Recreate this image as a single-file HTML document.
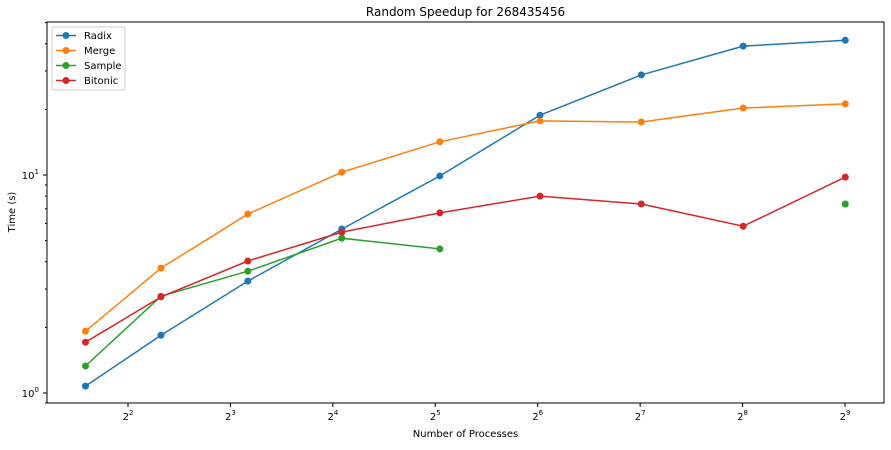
<!DOCTYPE html>
<html><head><meta charset="utf-8"><style>
body{margin:0;background:#fff;font-family:"Liberation Sans","DejaVu Sans",sans-serif;}
svg text{font-family:"DejaVu Sans","Liberation Sans",sans-serif;fill:#000;}
</style></head><body>
<svg id="chart" width="891" height="445" viewBox="0 0 891 445" xmlns="http://www.w3.org/2000/svg">
<text x="465.5" y="16" font-size="12" text-anchor="middle">Random Speedup for 268435456</text>
<text x="465.5" y="437" font-size="10" text-anchor="middle">Number of Processes</text>
<text x="15" y="212" font-size="10" text-anchor="middle" transform="rotate(-90 15 212)">Time (s)</text>
<g id="plot"></g>
</svg>
<script>
const processes=[3,5,9,17,33,65,129,257,513];
const radix=[1.076,1.84,3.26,5.65,9.9,18.8,28.8,39.0,41.5];
const merge=[1.92,3.74,6.62,10.3,14.2,17.7,17.5,20.3,21.2];
const sample=[1.33,2.78,3.62,5.13,4.58,null,null,null,7.36];
const bitonic=[1.71,2.76,4.03,5.47,6.7,8.0,7.36,5.82,9.78];
const seriesNames=['Radix','Merge','Sample','Bitonic'];
const xTickExps=[2,3,4,5,6,7,8,9];
const yTickExps=[0,1];

const L=47,R=884,T=22,B=403;
const NS='http://www.w3.org/2000/svg';
const g=document.getElementById('plot');
function xs(v){return 128+(Math.log2(v)-2)*102.43;}
function ys(v){return 393-(Math.log10(v))*218;}
function mk(t,a,p){const e=document.createElementNS(NS,t);for(const k in a)e.setAttribute(k,a[k]);(p||g).appendChild(e);return e;}

const frame=mk('rect',{x:L,y:T,width:R-L,height:B-T,fill:'none',stroke:'#000','stroke-width':1});



xTickExps.forEach(e=>{const x=xs(Math.pow(2,e));
 const t=mk('line',{x1:x,x2:x,y1:B,y2:B+4,stroke:'#000'});
 
 
 const tx=mk('text',{x:x,y:B+17,'font-size':10,'text-anchor':'middle'});
 
 
 tx.innerHTML='2<tspan dy="-5" font-size="7">'+e+'</tspan>';
});
for(let d=-1;d<=1;d++){for(let m=2;m<=9;m++){const y=ys(m*Math.pow(10,d));if(y>T&&y<B){
 const t=mk('line',{x1:L-2,x2:L,y1:y,y2:y,stroke:'#000'});
 
 }}}
yTickExps.forEach(e=>{const y=ys(Math.pow(10,e));
 const t=mk('line',{x1:L-4,x2:L,y1:y,y2:y,stroke:'#000'});
 
 
 const tx=mk('text',{x:L-8,y:y+4,'font-size':10,'text-anchor':'end'});
 
 
 tx.innerHTML='10<tspan dy="-5" font-size="7">'+e+'</tspan>';
});

const colors=['#1f77b4','#ff7f0e','#2ca02c','#d62728'];
[radix,merge,sample,bitonic].forEach((s,i)=>{
 const sg=mk('g',{});
 
 
 let d='',pen=false;
 s.forEach((v,j)=>{if(v==null){pen=false;return;}d+=(pen?'L':'M')+xs(processes[j]).toFixed(1)+' '+ys(v).toFixed(1);pen=true;});
 const p=mk('path',{d:d,fill:'none',stroke:colors[i],'stroke-width':1.5},sg);
 
 
 s.forEach((v,j)=>{if(v==null)return;
  const c=mk('circle',{cx:xs(processes[j]),cy:ys(v),r:3.5,fill:colors[i]},sg);
  
  });
});

const lg=mk('g',{});


mk('rect',{x:52,y:27,width:73,height:63,rx:2,fill:'#fff',stroke:'#ccc'},lg);
seriesNames.forEach((n,i)=>{const y=35.5+i*15;
 const e=mk('g',{},lg);
 
 
 mk('line',{x1:56,x2:76,y1:y,y2:y,stroke:colors[i],'stroke-width':1.5},e);
 mk('circle',{cx:66,cy:y,r:3.5,fill:colors[i]},e);
 const t=mk('text',{x:84,y:y+3.5,'font-size':10},e);t.textContent=n;});
</script>
</body></html>
